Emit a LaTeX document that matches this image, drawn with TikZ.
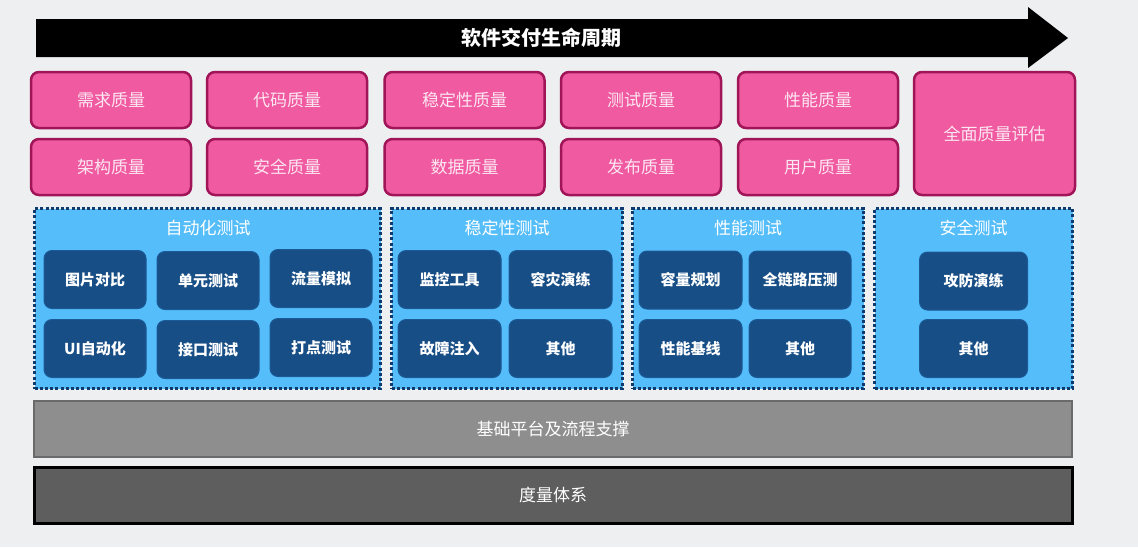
\documentclass[tikz,border=0pt]{standalone}
\usepackage{fontspec}
\setmainfont{Noto Sans CJK SC}
\usepackage{xcolor}
\usetikzlibrary{positioning}
\definecolor{bgcol}{HTML}{EEEFF1}
\definecolor{qpink}{HTML}{F05AA0}
\definecolor{qborder}{HTML}{A01458}
\definecolor{qtext}{HTML}{FCE6F1}
\definecolor{panelblue}{HTML}{55BEFA}
\definecolor{paneledge}{HTML}{0E3A6E}
\definecolor{itemblue}{HTML}{184E86}
\definecolor{itemedge}{HTML}{1B5A96}
\definecolor{basegray}{HTML}{8E8E8E}
\definecolor{baseedge}{HTML}{6A6A6A}
\definecolor{metricgray}{HTML}{5E5E5E}

\begin{document}
\begin{tikzpicture}[x=1pt,y=-1pt,
  every node/.style={align=center,inner sep=0pt},
  quality/.style={draw=qborder,line width=2.5pt,fill=qpink,rounded corners=8pt,
    minimum width=160pt,minimum height=56pt,text=qtext,font=\fontsize{17}{20}\selectfont},
  panel/.style={draw=paneledge,line width=3pt,dash pattern=on 3pt off 2.2pt,fill=panelblue,
    minimum height=180pt},
  paneltitle/.style={text=white,font=\fontsize{17}{20}\selectfont},
  item/.style={draw=itemedge,line width=1pt,fill=itemblue,rounded corners=8pt,
    minimum width=102pt,minimum height=58pt,text=white,font=\fontsize{15}{18}\selectfont\bfseries},
  layer/.style={minimum width=1038pt,minimum height=56pt,text=white,font=\fontsize{17}{20}\selectfont}]
% background and frame
\fill[bgcol] (0,0) rectangle (1138,547);
\useasboundingbox (0,0) rectangle (1138,547);

% lifecycle arrow
\fill[black] (36,19) -- (1028,19) -- (1028,7) -- (1068,38) -- (1028,68) -- (1028,57) -- (36,57) -- cycle;
\node[text=white,font=\fontsize{20}{24}\selectfont\bfseries] (life) at (541,38) {软件交付生命周期};

% quality dimensions
\node[quality] (req) at (111,100) {需求质量};
\node[quality] (code) at (287,100) {代码质量};
\node[quality] (stab) at (464.5,100) {稳定性质量};
\node[quality] (testq) at (641,100) {测试质量};
\node[quality] (perfq) at (818,100) {性能质量};
\node[quality] (arch) at (111,167) {架构质量};
\node[quality] (secq) at (287,167) {安全质量};
\node[quality] (data) at (464.5,167) {数据质量};
\node[quality] (rel) at (641,167) {发布质量};
\node[quality] (user) at (818,167) {用户质量};
\node[quality,minimum width=161pt,minimum height=123pt] (overall) at (994.5,133.5) {全面质量评估};

% test panels
\node[panel,minimum width=346pt] (auto) at (207.5,298.5) {};
\node[panel,minimum width=231pt] (stabt) at (507,298.5) {};
\node[panel,minimum width=231pt] (perft) at (748,298.5) {};
\node[panel,minimum width=198pt] (sect) at (973.5,298.5) {};
\node[paneltitle] (autotitle) at (208,228) {自动化测试};
\node[paneltitle] (stabtitle) at (507,228) {稳定性测试};
\node[paneltitle] (perftitle) at (748,228) {性能测试};
\node[paneltitle] (sectitle) at (973.5,228) {安全测试};

% automation
\node[item] (img) at (95,279.5) {图片对比};
\node[item] (unit) at (208,280.5) {单元测试};
\node[item] (flow) at (321,278.5) {流量模拟};
\node[item] (ui) at (95,348.5) {UI自动化};
\node[item] (api) at (208,349.5) {接口测试};
\node[item] (track) at (321,347.5) {打点测试};
% stability
\node[item,minimum width=103pt] (mon) at (449.5,279.5) {监控工具};
\node[item,minimum width=103pt] (dr) at (560.5,279.5) {容灾演练};
\node[item,minimum width=103pt] (fault) at (449.5,348.5) {故障注入};
\node[item,minimum width=103pt] (stabo) at (560.5,348.5) {其他};
% performance
\node[item,minimum width=103pt] (cap) at (690.5,280) {容量规划};
\node[item] (press) at (800,280) {全链路压测};
\node[item,minimum width=103pt] (base) at (690.5,348.5) {性能基线};
\node[item] (perfo) at (800,348.5) {其他};
% security
\node[item,minimum width=108pt] (attack) at (973.5,281) {攻防演练};
\node[item,minimum width=108pt] (seco) at (973.5,348.5) {其他};

% base layers
\node[layer,draw=baseedge,line width=2pt,fill=basegray] (platform) at (553,429) {基础平台及流程支撑};
\node[layer,draw=black,line width=3pt,fill=metricgray] (metric) at (553,495) {度量体系};
\end{tikzpicture}
\end{document}
